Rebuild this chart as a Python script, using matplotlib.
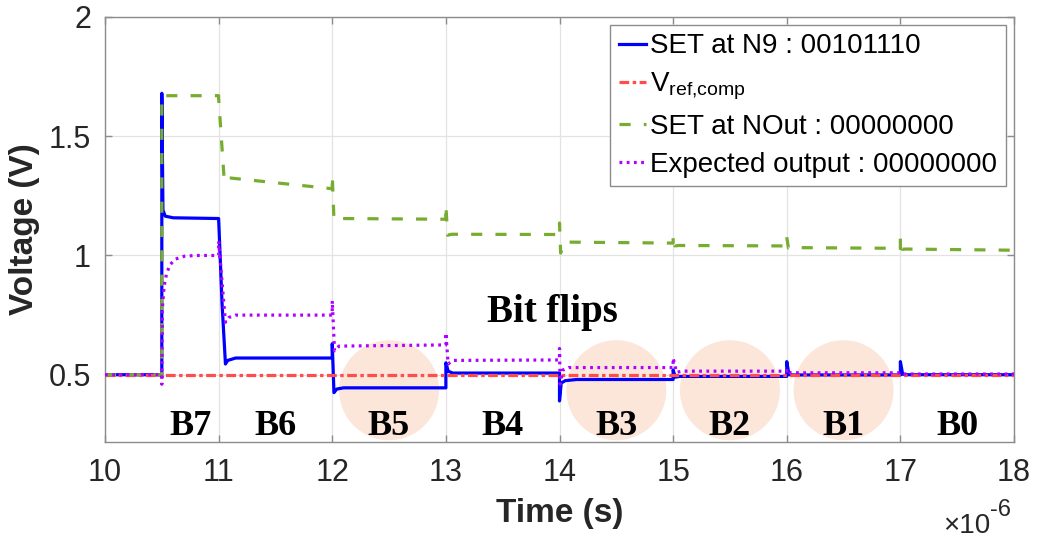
import matplotlib
matplotlib.use("Agg")
import matplotlib.pyplot as plt
from matplotlib.patches import Ellipse

plt.rcParams['font.family'] = ['Liberation Sans', 'DejaVu Sans']
plt.rcParams['mathtext.fontset'] = 'custom'
plt.rcParams['mathtext.rm'] = 'Liberation Sans'
plt.rcParams['mathtext.it'] = 'Liberation Sans:italic'
plt.rcParams['mathtext.bf'] = 'Liberation Sans:bold'
plt.rcParams['lines.scale_dashes'] = False

# ---------------- data (time in microseconds, voltage in V) ----------------
blue_t = [10.0, 10.5, 10.5, 10.51, 10.53, 10.6, 11.0, 11.03, 11.06, 11.08, 11.15,
          12.0, 12.0, 12.015, 12.04, 12.1, 13.0, 13.0, 13.02, 13.06,
          14.0, 14.0, 14.015, 14.05, 14.15, 15.0, 15.0, 15.02, 15.06,
          16.0, 16.0, 16.02, 16.06, 17.0, 17.0, 17.02, 17.06, 18.0]
blue_v = [0.5, 0.5, 1.68, 1.19, 1.165, 1.158, 1.155, 0.80, 0.545, 0.56, 0.57,
          0.57, 0.63, 0.425, 0.44, 0.445, 0.445, 0.55, 0.515, 0.507,
          0.507, 0.39, 0.465, 0.475, 0.48, 0.48, 0.52, 0.49, 0.493,
          0.493, 0.555, 0.50, 0.499, 0.499, 0.555, 0.502, 0.5, 0.5]

vref_t = [10.0, 18.0]
vref_v = [0.5, 0.5]

green_t = [10.0, 10.5, 10.5, 11.0, 11.0, 11.05, 11.07, 11.1, 12.0, 12.0, 12.015, 12.05,
           13.0, 13.0, 13.015, 13.05, 14.0, 14.0, 14.01, 14.03, 14.08,
           15.0, 15.0, 15.015, 15.05, 16.0, 16.0, 16.015, 16.05,
           17.0, 17.0, 17.015, 17.05, 18.0]
green_v = [0.5, 0.5, 1.67, 1.67, 1.66, 1.31, 1.325, 1.325, 1.28, 1.336, 1.15, 1.155,
           1.152, 1.21, 1.085, 1.089, 1.088, 1.136, 1.01, 1.045, 1.056,
           1.052, 1.085, 1.04, 1.042, 1.04, 1.077, 1.031, 1.033,
           1.03, 1.077, 1.026, 1.027, 1.022]

purple_t = [10.0, 10.5, 10.5, 10.505, 10.52, 10.54, 10.57, 10.62, 10.7, 10.8, 11.0, 11.0,
            11.06, 11.09, 11.15, 12.0, 12.0, 12.02, 12.06, 13.0, 13.0, 13.02, 13.06,
            14.0, 14.0, 14.005, 14.03, 14.08, 15.0, 15.0, 15.03, 15.08,
            16.0, 16.0, 16.03, 17.0, 17.0, 17.03, 18.0]
purple_v = [0.5, 0.5, 0.46, 0.78, 0.87, 0.92, 0.96, 0.985, 0.997, 1.0, 1.0, 1.06,
            0.72, 0.74, 0.75, 0.75, 0.81, 0.60, 0.62, 0.625, 0.675, 0.545, 0.56,
            0.562, 0.61, 0.46, 0.52, 0.53, 0.53, 0.57, 0.51, 0.515,
            0.515, 0.525, 0.508, 0.508, 0.51, 0.503, 0.503]

bit_labels = ['B7', 'B6', 'B5', 'B4', 'B3', 'B2', 'B1', 'B0']
bit_label_t = [10.75, 11.5, 12.5, 13.5, 14.5, 15.5, 16.5, 17.5]
flip_centers_t = [12.5, 14.5, 15.5, 16.5]

x_ticks = [10, 11, 12, 13, 14, 15, 16, 17, 18]
y_ticks = [0.5, 1, 1.5, 2]

legend_labels = ['SET at N9 : 00101110', r'V$_{\mathrm{ref{,}comp}}$',
                 'SET at NOut : 00000000', 'Expected output : 00000000']

# ---------------- figure ----------------
W, H = 1037, 541
fig = plt.figure(figsize=(W / 100, H / 100), dpi=100)
L, R, B, T = 105, 1014, 441.5, 17
ax = fig.add_axes([L / W, 1 - B / H, (R - L) / W, (B - T) / H])
xlim = (10, 18)
ylim = (0.22, 2.0)
ax.set_xlim(*xlim)
ax.set_ylim(*ylim)

# bit flip circles (round in pixels)
r_px = 50
px_per_x = (R - L) / (xlim[1] - xlim[0])
px_per_y = (B - T) / (ylim[1] - ylim[0])
for c in flip_centers_t:
    ax.add_patch(Ellipse((c, 0.435), 2 * r_px / px_per_x, 2 * r_px / px_per_y,
                         facecolor='#FCE6DA', edgecolor='none', zorder=1))

ax.plot(blue_t, blue_v, color='#0000FF', lw=2.3, zorder=3, label=legend_labels[0])
ax.plot(vref_t, vref_v, color='#FF4D4D', lw=2.3, dashes=[7, 2.5, 2.5, 2.5], zorder=4,
        label=legend_labels[1])
ax.plot(green_t, green_v, color='#77AC30', lw=2.3, dashes=[8, 9.5], zorder=4,
        label=legend_labels[2])
ax.plot(purple_t, purple_v, color='#B000FF', lw=2.3, dashes=[2, 3.2], zorder=5,
        label=legend_labels[3])

for lab, t in zip(bit_labels, bit_label_t):
    ax.text(t, 0.247, lab, ha='center', va='baseline', fontsize=26, fontweight='bold',
            family=['Liberation Serif'], zorder=6)
ax.text(13.94, 0.721, 'Bit flips', ha='center', va='baseline', fontsize=28,
        fontweight='bold', family=['Liberation Serif'], zorder=6)

ax.set_xticks(x_ticks)
ax.set_xticklabels([str(v) for v in x_ticks])
ax.set_yticks(y_ticks)
ax.set_yticklabels(['0.5', '1', '1.5', '2'])
ax.grid(True, color='#E3E3E3', lw=0.9, zorder=0)
ax.set_axisbelow(True)
for s in ax.spines.values():
    s.set_color('#8C8C8C')
    s.set_linewidth(1.0)
ax.tick_params(axis='both', direction='in', length=5, width=1, color='#8C8C8C',
               labelsize=22, labelcolor='#262626', top=True, right=True)
ax.tick_params(axis='x', pad=12)
ax.tick_params(axis='y', pad=10)

ax.set_xlabel('Time (s)', fontsize=24, fontweight='bold', color='#262626', labelpad=7)
ax.set_ylabel('Voltage (V)', fontsize=24, fontweight='bold', color='#262626', labelpad=6)

# x10^-6 exponent note
fig.text(990 / W, 1 - 533 / H, '\u00d710', ha='right', va='baseline',
         fontsize=20, color='#262626')
fig.text(990 / W, 1 - 516 / H, '-6', ha='left', va='baseline', fontsize=17,
         color='#262626')

leg = ax.legend(loc='upper right', bbox_to_anchor=(0.991, 0.981), fontsize=20,
                handlelength=1.0, handletextpad=0.15, borderaxespad=0, borderpad=0.3,
                labelspacing=0.42, frameon=True, fancybox=False, framealpha=1)
leg.get_frame().set_edgecolor('#8C8C8C')
leg.get_frame().set_linewidth(1.0)
leg.set_zorder(10)

fig.savefig('out.png', dpi=100)
